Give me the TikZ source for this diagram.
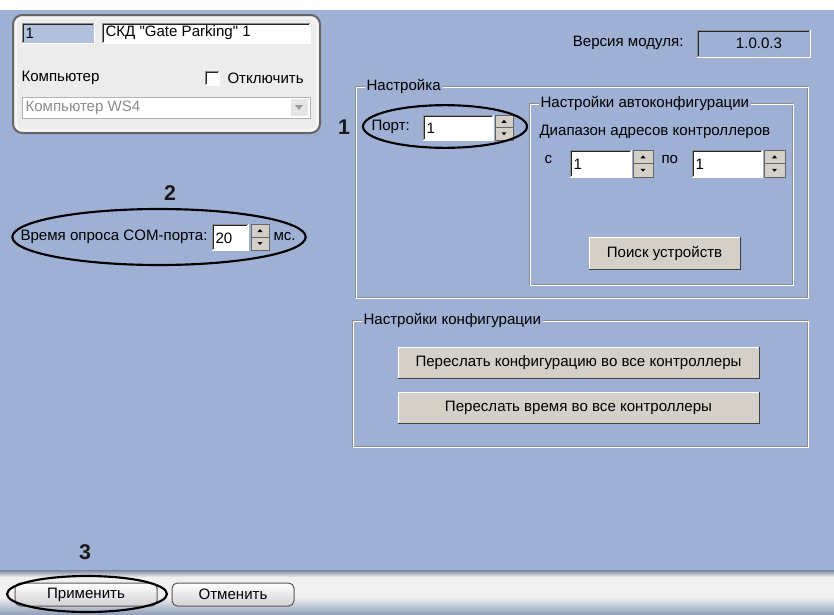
\documentclass[tikz,border=0pt]{standalone}
\usepackage{fontspec}
\setmainfont{Liberation Sans}[Ligatures=TeXOff]
\usetikzlibrary{shapes.geometric}
\definecolor{winbg}{RGB}{158,176,212}
\definecolor{btngrey}{RGB}{212,208,200}
\definecolor{panelgrey}{RGB}{236,236,236}
\tikzset{
  lbl/.style={anchor=west,inner sep=0pt},
  ring/.style={draw=black,line width=1.6pt,ellipse,inner sep=0pt},
  num/.style={font=\fontsize{16}{18}\selectfont\bfseries,text=black!90}
}
\begin{document}
\begin{tikzpicture}[x=0.75pt,y=-0.75pt,line width=0.75pt,font=\fontsize{11.3}{13}\selectfont]
    \fill[winbg] (0,0) rectangle (834,614);
    \fill[white] (0,0) rectangle (834,10);
    \useasboundingbox (0,0) rectangle (834,614);
    \shade[top color=winbg!75!black,bottom color=white!94!black] (0,570) rectangle (834,577);
    \fill[white!94!black] (0,577) rectangle (834,597);
    \shade[top color=white!94!black,bottom color=winbg!70!gray] (0,597) rectangle (834,614);
    \draw[rounded corners=7pt,fill=panelgrey,draw=black!60,line width=1.5pt] (13,15) rectangle (320,133);
    \draw[rounded corners=5pt,white] (16,18) rectangle (317,130);
    \foreach \a/\b/\c/\d/\f in {22/23/94/43/winbg!80!white,102/23/310/43/white,205/71/219/85/white,697/30/810/57/winbg,
                                423/115/493/140/white,570/150/631/177/white,692/150/762/177/white,212/224/248/250/white}
      {
        \fill[\f] (\a,\b) rectangle (\c,\d);
        \draw[white] (\a,\d) -| (\c,\b);
        \draw[black!45] (\a,\d) |- (\c,\b);
        \draw[black!85] (\a+1,\d-1) |- (\c-1,\b+1);
      }
    \draw[fill=white,draw=black!30] (22,97) rectangle (310,118);
    \fill[white!90!black] (291,99) rectangle (308,116);
    \fill[black!40] (295,105) -- (303,105) -- (299,110) -- cycle;
    \foreach \a/\b/\c/\d in {495/115/513/140,633/150/653/177,764/150/785/177,251/224/269/250}
      {
        \pgfmathsetmacro{\m}{(\b+\d)/2}
        \draw[fill=btngrey,draw=black!60] (\a,\b) rectangle (\c,\m);
        \draw[fill=btngrey,draw=black!60] (\a,\m) rectangle (\c,\d);
        \fill ({(\a+\c)/2-2.5},{(\b+\m)/2+1.5}) -- ++(5,0) -- ++(-2.5,-3) -- cycle;
        \fill ({(\a+\c)/2-2.5},{(\m+\d)/2-1.5}) -- ++(5,0) -- ++(-2.5,3) -- cycle;
      }
    \foreach \a/\b/\c/\d/\n/\t in {355/86/807/297/setup/Настройка,529/103/792/284/auto/Настройки автоконфигурации,
                                   352/320/807/446/cfg/Настройки конфигурации}
      {
        \draw[black!45] (\a,\b) rectangle (\c,\d);
        \draw[white] (\a+1,\b+1) rectangle (\c+1,\d+1);
        \node[lbl,fill=winbg,inner xsep=1.5pt] (\n) at (\a+9,\b) {\t};
      }
    \foreach \a/\b/\c/\d/\n/\t in {589/237/740/269/search/Поиск устройств,
                                   398/347/759/378/sendcfg/Переслать конфигурацию во все контроллеры,
                                   398/392/759/423/sendtime/Переслать время во все контроллеры}
      {
        \fill[btngrey] (\a,\b) rectangle (\c,\d);
        \draw[white] (\a,\d) |- (\c,\b);
        \draw[black!75] (\a,\d) -| (\c,\b);
        \node (\n) at ({(\a+\c)/2},{(\b+\d)/2}) {\t};
      }
    \foreach \a/\c/\n/\t in {15/157/apply/Применить,172/294/cancel/Отменить}
      {
        \shadedraw[top color=white,bottom color=black!18,draw=black!65,rounded corners=4pt] (\a,583) rectangle (\c,606);
        \node (\n) at ({(\a+\c)/2},594.5) {\t};
      }
    \node[lbl] (idtxt) at (25,33) {1};
    \node[lbl] (nametxt) at (105,33) {СКД "Gate Parking" 1};
    \node[lbl] (pclbl) at (21,78) {Компьютер};
    \node[lbl] (offlbl) at (227,78) {Отключить};
    \node[lbl,text=black!45] (pctxt) at (25,108) {Компьютер WS4};
    \node[anchor=east,inner sep=0pt] (verlbl) at (684,43) {Версия модуля:};
    \node (vertxt) at (759,43) {1.0.0.3};
    \node[lbl] (portlbl) at (371,127) {Порт:};
    \node[lbl] (porttxt) at (426,128) {1};
    \node[lbl] (rangelbl) at (539,132) {Диапазон адресов контроллеров};
    \node[lbl] (fromlbl) at (544,160) {с};
    \node[lbl] (fromtxt) at (573,164) {1};
    \node[lbl] (tolbl) at (661,160) {по};
    \node[lbl] (totxt) at (695,164) {1};
    \node[anchor=east,inner sep=0pt] (polllbl) at (208,237) {Время опроса COM-порта:};
    \node[lbl] (polltxt) at (215,238) {20};
    \node[lbl] (mslbl) at (273,237) {мс.};
    \node[ring,minimum width=220pt,minimum height=42pt] (ring2) at (159,237) {};
    \node[ring,minimum width=123pt,minimum height=32pt] (ring1) at (445,126.5) {};
    \node[ring,minimum width=120pt,minimum height=27pt] (ring3) at (87,594) {};
    \node[num] (num1) at (344,127) {1};
    \node[num] (num2) at (170,193) {2};
    \node[num] (num3) at (85,552) {3};
\end{tikzpicture}
\end{document}
